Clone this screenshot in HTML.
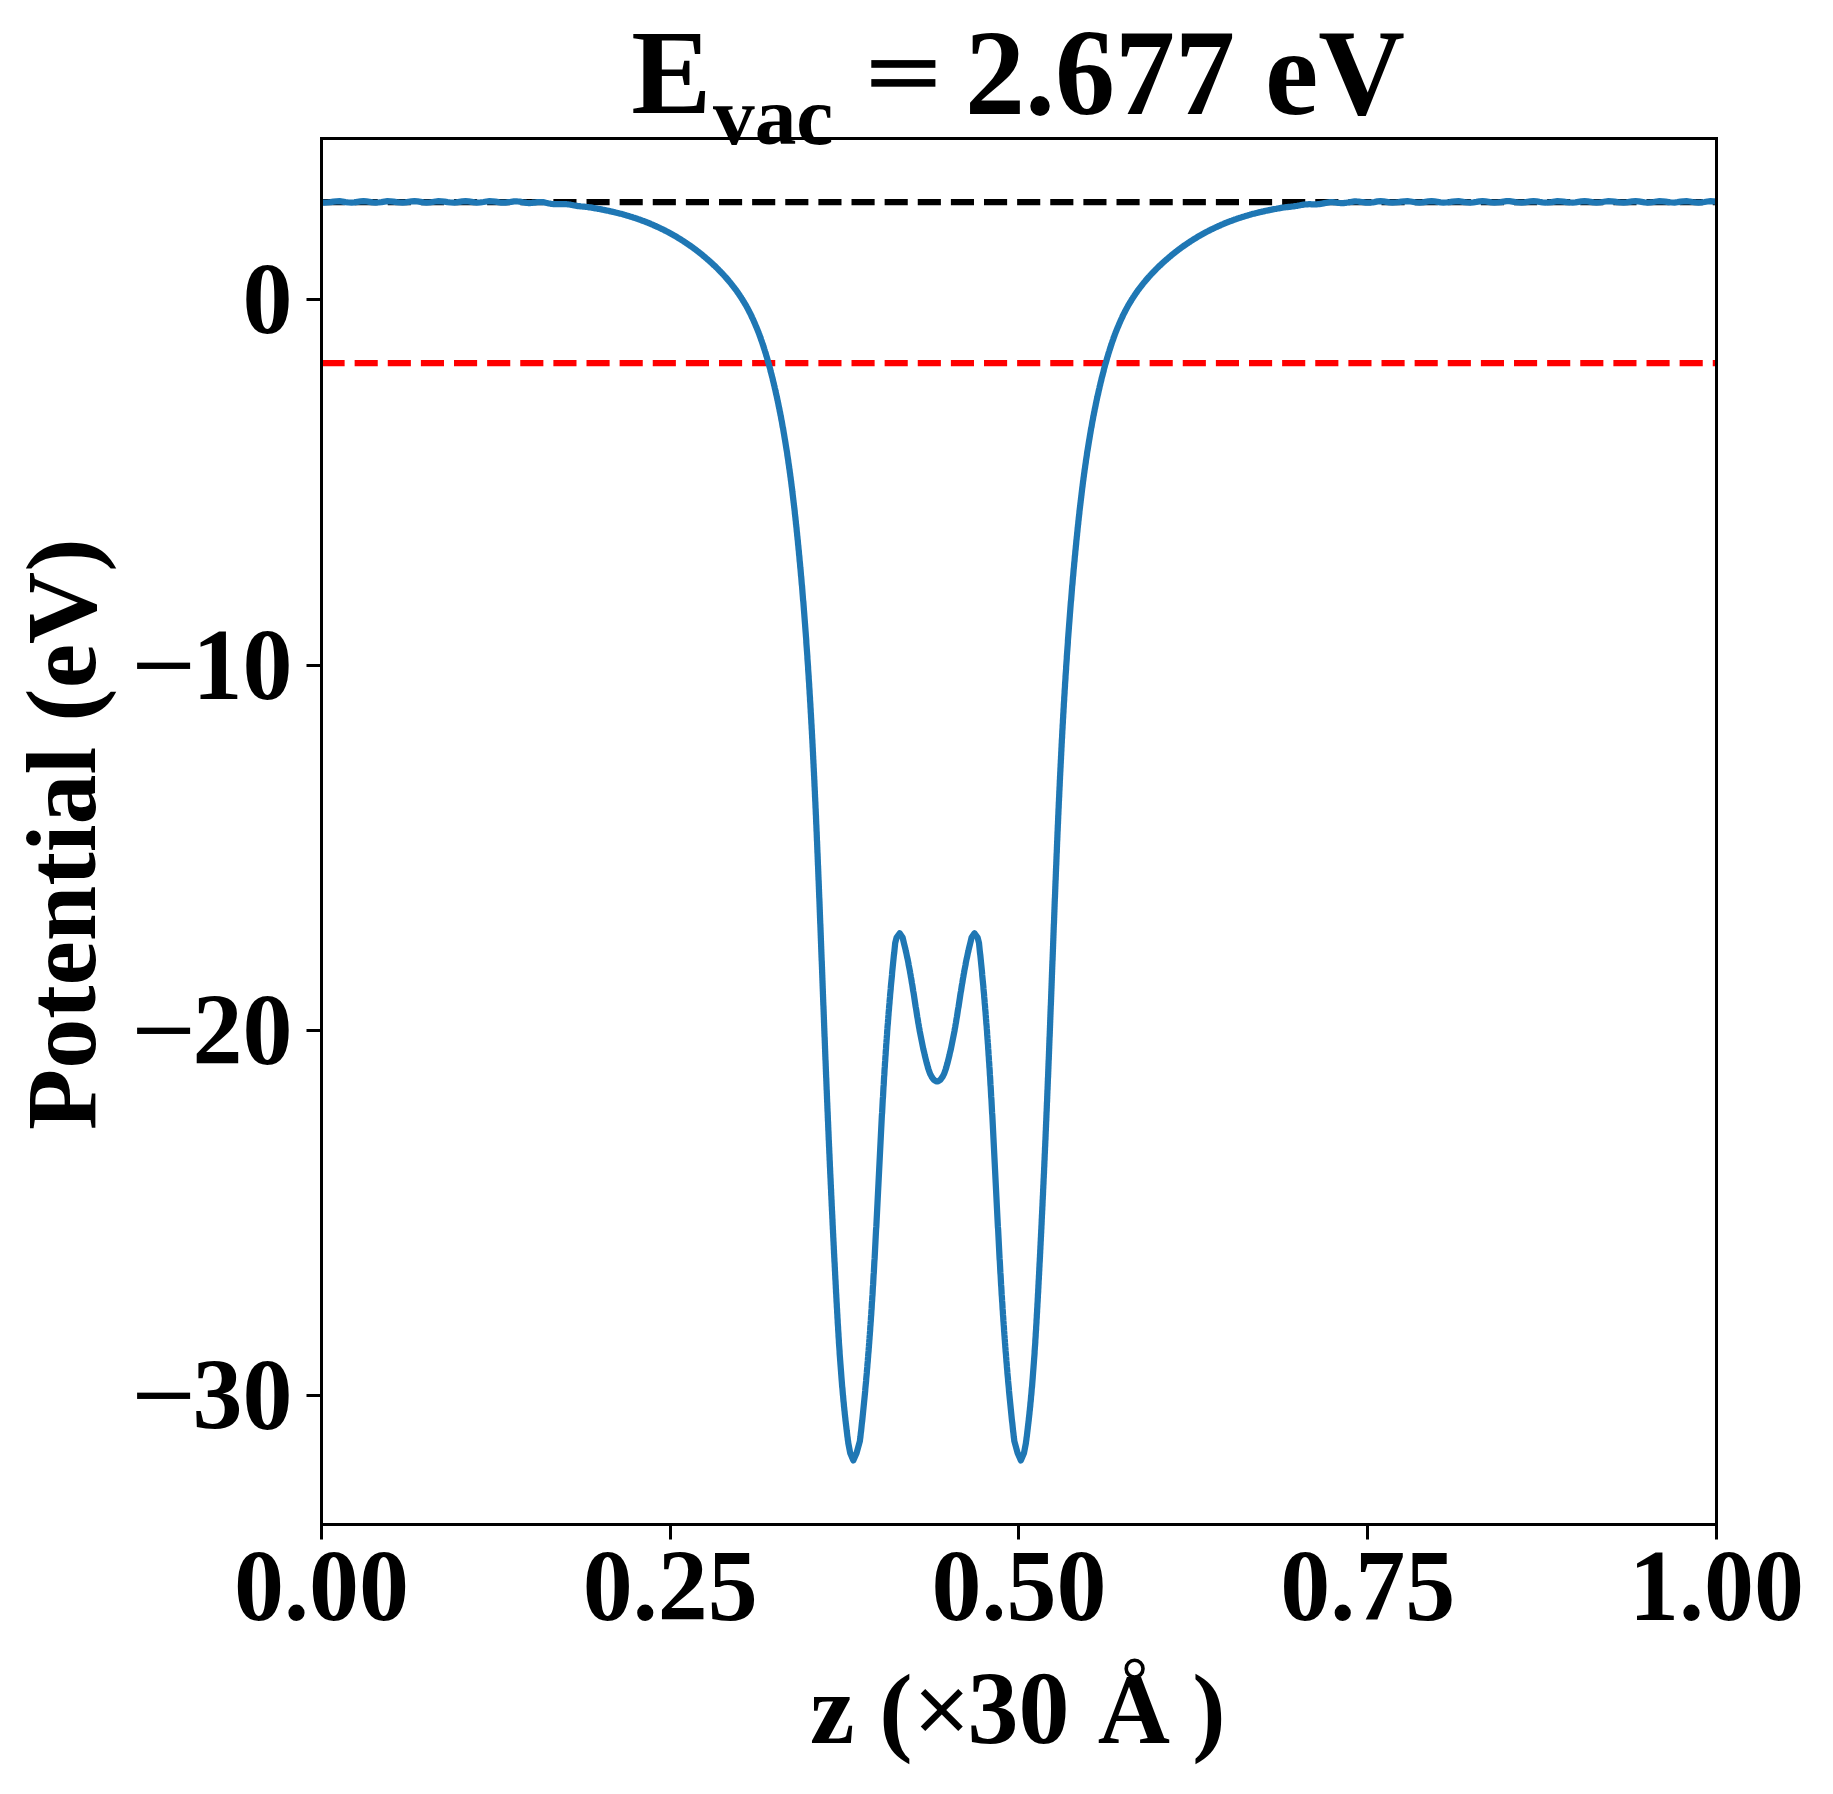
<!DOCTYPE html><html><head><meta charset="utf-8"><title>Potential</title><style>html,body{margin:0;padding:0;background:#fff;}svg{display:block;}</style></head><body>
<svg width="1833" height="1794" viewBox="0 0 1833 1794">
<rect x="0" y="0" width="1833" height="1794" fill="#ffffff"/>
<defs><clipPath id="ax"><rect x="321.5" y="138.5" width="1395.0" height="1386.0"/></clipPath></defs>
<g clip-path="url(#ax)">
<line x1="321.5" y1="202" x2="1716.5" y2="202" stroke="#000" stroke-width="6.250" stroke-dasharray="23.125 10.000"/>
<line x1="321.5" y1="363" x2="1716.5" y2="363" stroke="#ff0000" stroke-width="6.250" stroke-dasharray="23.125 10.000"/>
<path d="M321.5,202.3 L324.5,202.6 L327.5,202.5 L330.5,202.1 L333.5,201.6 L336.5,201.3 L339.5,201.2 L342.5,201.6 L345.5,202.1 L348.5,202.5 L351.5,202.6 L354.5,202.3 L357.5,201.8 L360.5,201.4 L363.5,201.2 L366.5,201.4 L369.5,201.8 L372.5,202.3 L375.5,202.6 L378.5,202.5 L381.5,202.1 L384.5,201.6 L387.5,201.2 L390.5,201.3 L393.5,201.6 L396.5,202.1 L399.5,202.5 L402.5,202.6 L405.5,202.3 L408.5,201.8 L411.5,201.4 L414.5,201.2 L417.5,201.4 L420.5,201.9 L423.5,202.4 L426.5,202.6 L429.5,202.5 L432.5,202.0 L435.5,201.5 L438.5,201.2 L441.5,201.3 L444.5,201.6 L447.5,202.1 L450.5,202.5 L453.5,202.6 L456.5,202.3 L459.5,201.8 L462.5,201.3 L465.5,201.2 L468.5,201.4 L471.5,201.9 L474.5,202.4 L477.5,202.6 L480.5,202.4 L483.5,202.0 L486.5,201.5 L489.5,201.2 L492.5,201.3 L495.5,201.7 L498.5,202.2 L499.9,202.5 L501.3,202.7 L502.7,202.7 L504.1,202.7 L505.5,202.6 L506.9,202.4 L508.4,202.2 L509.8,202.0 L511.2,201.8 L512.6,201.6 L514.0,201.4 L515.4,201.4 L516.8,201.4 L518.2,201.5 L519.6,201.7 L521.0,201.9 L522.4,202.2 L523.7,202.5 L525.1,202.7 L526.5,202.9 L527.9,203.0 L529.3,203.0 L530.6,203.0 L532.0,202.9 L533.4,202.7 L534.7,202.6 L536.1,202.4 L537.5,202.2 L538.8,202.1 L540.2,202.1 L541.5,202.1 L542.9,202.2 L544.2,202.4 L545.6,202.7 L546.9,203.0 L548.2,203.3 L549.6,203.5 L550.9,203.8 L552.2,204.0 L553.5,204.1 L554.9,204.2 L556.2,204.2 L557.5,204.1 L558.8,204.1 L560.1,204.0 L561.4,204.0 L562.7,204.0 L564.0,204.0 L565.3,204.0 L566.6,204.2 L567.9,204.3 L569.2,204.5 L570.5,204.7 L571.8,205.0 L573.0,205.2 L574.3,205.5 L575.6,205.7 L576.8,205.9 L578.1,206.1 L579.4,206.2 L580.6,206.4 L581.9,206.5 L583.1,206.6 L584.4,206.7 L585.6,206.8 L586.8,207.0 L588.1,207.1 L589.3,207.3 L590.5,207.4 L591.7,207.6 L593.0,207.9 L594.2,208.1 L595.4,208.3 L596.6,208.5 L597.8,208.8 L599.0,209.0 L600.2,209.2 L601.4,209.4 L602.6,209.7 L603.7,209.9 L604.9,210.1 L606.1,210.4 L607.3,210.6 L608.4,210.8 L609.6,211.1 L610.8,211.4 L611.9,211.6 L613.1,211.9 L614.2,212.1 L615.3,212.4 L616.5,212.7 L617.6,213.0 L618.7,213.3 L619.9,213.6 L621.0,213.8 L622.1,214.1 L623.2,214.4 L624.3,214.8 L625.4,215.1 L626.5,215.4 L627.6,215.7 L628.7,216.0 L629.8,216.4 L630.9,216.7 L631.9,217.0 L633.0,217.4 L634.1,217.7 L635.1,218.1 L636.2,218.4 L637.3,218.8 L638.3,219.2 L639.4,219.5 L640.4,219.9 L641.4,220.3 L642.5,220.7 L643.5,221.0 L644.5,221.4 L645.5,221.8 L646.6,222.2 L647.6,222.6 L648.6,223.0 L649.6,223.4 L650.6,223.9 L651.6,224.3 L652.6,224.7 L653.5,225.1 L654.5,225.6 L655.5,226.0 L656.5,226.4 L657.4,226.9 L658.4,227.3 L659.4,227.8 L660.3,228.2 L661.3,228.7 L662.2,229.2 L663.2,229.6 L664.1,230.1 L665.1,230.6 L666.0,231.1 L666.9,231.5 L667.9,232.0 L668.8,232.5 L669.7,233.0 L670.6,233.5 L671.5,234.0 L672.4,234.5 L673.3,235.0 L674.2,235.6 L675.1,236.1 L676.0,236.6 L676.9,237.1 L677.8,237.7 L678.7,238.2 L679.6,238.7 L680.4,239.3 L681.3,239.8 L682.2,240.4 L683.0,240.9 L683.9,241.5 L684.7,242.0 L685.6,242.6 L686.4,243.2 L687.3,243.7 L688.1,244.3 L689.0,244.9 L689.8,245.5 L690.6,246.0 L691.4,246.6 L692.3,247.2 L693.1,247.8 L693.9,248.4 L694.7,249.0 L695.5,249.6 L696.3,250.2 L697.1,250.8 L697.9,251.5 L698.7,252.1 L699.5,252.7 L700.3,253.3 L701.1,254.0 L701.9,254.6 L702.6,255.2 L703.4,255.9 L704.2,256.5 L705.0,257.2 L705.7,257.8 L706.5,258.5 L707.2,259.1 L708.0,259.8 L708.8,260.4 L709.5,261.1 L710.3,261.8 L711.0,262.4 L711.7,263.1 L712.5,263.8 L713.2,264.5 L713.9,265.2 L714.7,265.8 L715.4,266.5 L716.1,267.2 L716.8,267.9 L717.5,268.6 L718.2,269.3 L718.9,270.1 L719.6,270.8 L720.3,271.5 L721.0,272.2 L721.7,272.9 L722.4,273.7 L723.1,274.4 L723.8,275.1 L724.4,275.9 L725.1,276.6 L725.8,277.4 L726.4,278.1 L727.1,278.9 L727.7,279.6 L728.4,280.4 L729.0,281.2 L729.7,281.9 L730.3,282.7 L731.0,283.5 L731.6,284.3 L732.2,285.1 L732.8,285.9 L733.4,286.7 L734.1,287.5 L734.7,288.3 L735.3,289.1 L735.9,289.9 L736.5,290.7 L737.1,291.5 L737.6,292.4 L738.2,293.2 L738.8,294.0 L739.4,294.9 L739.9,295.7 L740.5,296.6 L741.1,297.4 L741.6,298.3 L742.2,299.1 L742.7,300.0 L743.2,300.9 L743.8,301.8 L744.3,302.7 L744.8,303.5 L745.4,304.4 L745.9,305.3 L746.4,306.2 L746.9,307.2 L747.4,308.1 L747.9,309.0 L748.4,309.9 L748.9,310.8 L749.3,311.8 L749.8,312.7 L750.3,313.6 L750.8,314.6 L751.2,315.5 L751.7,316.5 L752.1,317.5 L752.6,318.4 L753.0,319.4 L753.5,320.4 L753.9,321.3 L754.3,322.3 L754.8,323.3 L755.2,324.3 L755.6,325.3 L756.0,326.3 L756.5,327.3 L756.9,328.3 L757.3,329.3 L757.7,330.3 L758.1,331.3 L758.5,332.3 L758.9,333.4 L759.3,334.4 L759.6,335.4 L760.0,336.4 L760.4,337.5 L760.8,338.5 L761.1,339.6 L761.5,340.6 L761.9,341.7 L762.2,342.7 L762.6,343.8 L762.9,344.8 L763.3,345.9 L763.6,347.0 L764.0,348.0 L764.3,349.1 L764.7,350.2 L765.0,351.3 L765.3,352.3 L765.7,353.4 L766.0,354.5 L766.3,355.6 L766.7,356.7 L767.0,357.8 L767.3,358.9 L767.6,360.0 L767.9,361.1 L768.2,362.2 L768.5,363.3 L768.9,364.4 L769.2,365.5 L769.5,366.6 L769.8,367.7 L770.1,368.8 L770.4,370.0 L770.6,371.1 L770.9,372.2 L771.2,373.3 L771.5,374.4 L771.8,375.6 L772.1,376.7 L772.4,377.8 L772.7,379.0 L772.9,380.1 L773.2,381.2 L773.5,382.4 L773.8,383.5 L774.0,384.7 L774.3,385.8 L774.6,386.9 L774.8,388.1 L775.1,389.2 L775.4,390.4 L775.6,391.5 L775.9,392.7 L776.1,393.9 L776.4,395.0 L776.7,396.2 L776.9,397.3 L777.2,398.5 L777.4,399.7 L777.7,400.8 L777.9,402.0 L778.2,403.2 L778.4,404.3 L778.6,405.5 L778.9,406.7 L779.1,407.9 L779.4,409.0 L779.6,410.2 L779.8,411.4 L780.1,412.6 L780.3,413.7 L780.5,414.9 L780.8,416.1 L781.0,417.3 L781.2,418.5 L781.4,419.7 L781.7,420.9 L781.9,422.1 L782.1,423.3 L782.3,424.5 L782.5,425.7 L782.7,426.9 L783.0,428.1 L783.2,429.3 L783.4,430.5 L783.6,431.7 L783.8,432.9 L784.0,434.1 L784.2,435.3 L784.4,436.5 L784.6,437.7 L784.8,438.9 L785.0,440.1 L785.2,441.3 L785.4,442.6 L785.6,443.8 L785.8,445.0 L786.0,446.2 L786.2,447.4 L786.4,448.7 L786.6,449.9 L786.8,451.1 L787.0,452.3 L787.2,453.6 L787.3,454.8 L787.5,456.0 L787.7,457.2 L787.9,458.5 L788.1,459.7 L788.3,460.9 L788.4,462.2 L788.6,463.4 L788.8,464.7 L789.0,465.9 L789.1,467.1 L789.3,468.4 L789.5,469.6 L789.7,470.9 L789.8,472.1 L790.0,473.3 L790.2,474.6 L790.3,475.8 L790.5,477.1 L790.7,478.3 L790.8,479.6 L791.0,480.8 L791.2,482.1 L791.3,483.3 L791.5,484.6 L791.6,485.8 L791.8,487.1 L792.0,488.4 L792.1,489.6 L792.3,490.9 L792.4,492.1 L792.6,493.4 L792.7,494.7 L792.9,495.9 L793.0,497.2 L793.2,498.4 L793.3,499.7 L793.5,501.0 L793.6,502.2 L793.8,503.5 L793.9,504.8 L794.1,506.0 L794.2,507.3 L794.4,508.6 L794.5,509.8 L794.7,511.1 L794.8,512.4 L794.9,513.7 L795.1,514.9 L795.2,516.2 L795.4,517.5 L795.5,518.8 L795.6,520.0 L795.8,521.3 L795.9,522.6 L796.0,523.9 L796.2,525.1 L796.3,526.4 L796.5,527.7 L796.6,529.0 L796.7,530.3 L796.8,531.5 L797.0,532.8 L797.1,534.1 L797.2,535.4 L797.4,536.7 L797.5,538.0 L797.6,539.2 L797.8,540.5 L797.9,541.8 L798.0,543.1 L798.1,544.4 L798.3,545.7 L798.4,547.0 L798.5,548.3 L798.6,549.5 L798.8,550.8 L798.9,552.1 L799.0,553.4 L799.1,554.7 L799.3,556.0 L799.4,557.3 L799.5,558.6 L799.6,559.9 L799.7,561.2 L799.9,562.5 L800.0,563.8 L800.1,565.1 L800.2,566.4 L800.3,567.6 L800.5,568.9 L800.6,570.2 L800.7,571.5 L800.8,572.8 L800.9,574.1 L801.0,575.4 L801.2,576.7 L801.3,578.0 L801.4,579.3 L801.5,580.6 L801.6,581.9 L801.7,583.2 L801.8,584.5 L802.0,585.8 L802.1,587.1 L802.2,588.5 L802.3,589.8 L802.4,591.1 L802.5,592.4 L802.6,593.7 L802.7,595.0 L802.8,596.3 L802.9,597.6 L803.0,598.9 L803.1,600.2 L803.3,601.5 L803.4,602.8 L803.5,604.1 L803.6,605.4 L803.7,606.7 L803.8,608.1 L803.9,609.4 L804.0,610.7 L804.1,612.0 L804.2,613.3 L804.3,614.6 L804.4,615.9 L804.5,617.2 L804.6,618.6 L804.7,619.9 L804.8,621.2 L804.9,622.5 L805.0,623.8 L805.1,625.1 L805.2,626.4 L805.3,627.8 L805.4,629.1 L805.5,630.4 L805.6,631.7 L805.7,633.0 L805.8,634.3 L805.9,635.7 L806.0,637.0 L806.1,638.3 L806.2,639.6 L806.3,640.9 L806.3,642.3 L806.4,643.6 L806.5,644.9 L806.6,646.2 L806.7,647.5 L806.8,648.9 L806.9,650.2 L807.0,651.5 L807.1,652.8 L807.2,654.2 L807.3,655.5 L807.4,656.8 L807.4,658.1 L807.5,659.5 L807.6,660.8 L807.7,662.1 L807.8,663.4 L807.9,664.8 L808.0,666.1 L808.1,667.4 L808.1,668.7 L808.2,670.1 L808.3,671.4 L808.4,672.7 L808.5,674.1 L808.6,675.4 L808.7,676.7 L808.7,678.0 L808.8,679.4 L808.9,680.7 L809.0,682.0 L809.1,683.4 L809.2,684.7 L809.2,686.0 L809.3,687.4 L809.4,688.7 L809.5,690.0 L809.6,691.4 L809.6,692.7 L809.7,694.0 L809.8,695.4 L809.9,696.7 L810.0,698.0 L810.0,699.4 L810.1,700.7 L810.2,702.0 L810.3,703.4 L810.4,704.7 L810.4,706.1 L810.5,707.4 L810.6,708.7 L810.7,710.1 L810.7,711.4 L810.8,712.7 L810.9,714.1 L811.0,715.4 L811.0,716.8 L811.1,718.1 L811.2,719.4 L811.3,720.8 L811.3,722.1 L811.4,723.5 L811.5,724.8 L811.6,726.1 L811.6,727.5 L811.7,728.8 L811.8,730.2 L811.9,731.5 L811.9,732.8 L812.0,734.2 L812.1,735.5 L812.1,736.9 L812.2,738.2 L812.3,739.6 L812.4,740.9 L812.4,742.2 L812.5,743.6 L812.6,744.9 L812.6,746.3 L812.7,747.6 L812.8,749.0 L812.8,750.3 L812.9,751.7 L813.0,753.0 L813.0,754.4 L813.1,755.7 L813.2,757.0 L813.2,758.4 L813.3,759.7 L813.4,761.1 L813.4,762.4 L813.5,763.8 L813.6,765.1 L813.6,766.5 L813.7,767.8 L813.8,769.2 L813.8,770.5 L813.9,771.9 L814.0,773.2 L814.0,774.6 L814.1,775.9 L814.2,777.3 L814.2,778.6 L814.3,780.0 L814.4,781.3 L814.4,782.7 L814.5,784.0 L814.5,785.4 L814.6,786.7 L814.7,788.1 L814.7,789.4 L814.8,790.8 L814.9,792.1 L814.9,793.5 L815.0,794.8 L815.0,796.2 L815.1,797.5 L815.2,798.9 L815.2,800.2 L815.3,801.6 L815.4,803.0 L815.4,804.3 L815.5,805.7 L815.5,807.0 L815.6,808.4 L815.7,809.7 L815.7,811.1 L815.8,812.4 L815.8,813.8 L815.9,815.1 L816.0,816.5 L816.0,817.9 L816.1,819.2 L816.1,820.6 L816.2,821.9 L816.2,823.3 L816.3,824.6 L816.4,826.0 L816.4,827.3 L816.5,828.7 L816.5,830.1 L816.6,831.4 L816.7,832.8 L816.7,834.1 L816.8,835.5 L816.8,836.8 L816.9,838.2 L816.9,839.6 L817.0,840.9 L817.1,842.3 L817.1,843.6 L817.2,845.0 L817.2,846.3 L817.3,847.7 L817.3,849.1 L817.4,850.4 L817.4,851.8 L817.5,853.1 L817.6,854.5 L817.6,855.8 L817.7,857.2 L817.7,858.6 L817.8,859.9 L817.8,861.3 L817.9,862.6 L817.9,864.0 L818.0,865.4 L818.1,866.7 L818.1,868.1 L818.2,869.4 L818.2,870.8 L818.3,872.2 L818.3,873.5 L818.4,874.9 L818.4,876.2 L818.5,877.6 L818.5,879.0 L818.6,880.3 L818.7,881.7 L818.7,883.0 L818.8,884.4 L818.8,885.8 L818.9,887.1 L818.9,888.5 L819.0,889.8 L819.0,891.2 L819.1,892.6 L819.1,893.9 L819.2,895.3 L819.2,896.6 L819.3,898.0 L819.4,899.4 L819.4,900.7 L819.5,902.1 L819.5,903.4 L819.6,904.8 L819.6,906.2 L819.7,907.5 L819.7,908.9 L819.8,910.3 L819.8,911.6 L819.9,913.0 L819.9,914.3 L820.0,915.7 L820.0,917.1 L820.1,918.4 L820.1,919.8 L820.2,921.2 L820.2,922.5 L820.3,923.9 L820.4,925.2 L820.4,926.6 L820.5,928.0 L820.5,929.3 L820.6,930.7 L820.6,932.0 L820.7,933.4 L820.7,934.8 L820.8,936.1 L820.8,937.5 L820.9,938.9 L820.9,940.2 L821.0,941.6 L821.0,942.9 L821.1,944.3 L821.1,945.7 L821.2,947.0 L821.2,948.4 L821.3,949.8 L821.3,951.1 L821.4,952.5 L821.4,953.8 L821.5,955.2 L821.5,956.6 L821.6,957.9 L821.6,959.3 L821.7,960.7 L821.8,962.0 L821.8,963.4 L821.9,964.7 L821.9,966.1 L822.0,967.5 L822.0,968.8 L822.1,970.2 L822.1,971.6 L822.2,972.9 L822.2,974.3 L822.3,975.6 L822.3,977.0 L822.4,978.4 L822.4,979.7 L822.5,981.1 L822.5,982.5 L822.6,983.8 L822.6,985.2 L822.7,986.6 L822.7,987.9 L822.8,989.3 L822.8,990.6 L822.9,992.0 L822.9,993.4 L823.0,994.7 L823.0,996.1 L823.1,997.5 L823.1,998.8 L823.2,1000.2 L823.2,1001.5 L823.3,1002.9 L823.3,1004.3 L823.4,1005.6 L823.5,1007.0 L823.5,1008.4 L823.6,1009.7 L823.6,1011.1 L823.7,1012.4 L823.7,1013.8 L823.8,1015.2 L823.8,1016.5 L823.9,1017.9 L823.9,1019.3 L824.0,1020.6 L824.0,1022.0 L824.1,1023.3 L824.1,1024.7 L824.2,1026.1 L824.2,1027.4 L824.3,1028.8 L824.3,1030.1 L824.4,1031.5 L824.4,1032.9 L824.5,1034.2 L824.5,1035.6 L824.6,1037.0 L824.7,1038.3 L824.7,1039.7 L824.8,1041.0 L824.8,1042.4 L824.9,1043.8 L824.9,1045.1 L825.0,1046.5 L825.0,1047.8 L825.1,1049.2 L825.1,1050.6 L825.2,1051.9 L825.2,1053.3 L825.3,1054.7 L825.3,1056.0 L825.4,1057.4 L825.4,1058.7 L825.5,1060.1 L825.6,1061.5 L825.6,1062.8 L825.7,1064.2 L825.7,1065.5 L825.8,1066.9 L825.8,1068.3 L825.9,1069.6 L825.9,1071.0 L826.0,1072.3 L826.0,1073.7 L826.1,1075.1 L826.1,1076.4 L826.2,1077.8 L826.3,1079.1 L826.3,1080.5 L826.4,1081.9 L826.4,1083.2 L826.5,1084.6 L826.5,1085.9 L826.6,1087.3 L826.6,1088.7 L826.7,1090.0 L826.8,1091.4 L826.8,1092.7 L826.9,1094.1 L826.9,1095.4 L827.0,1096.8 L827.0,1098.2 L827.1,1099.5 L827.1,1100.9 L827.2,1102.2 L827.3,1103.6 L827.3,1105.0 L827.4,1106.3 L827.4,1107.7 L827.5,1109.0 L827.5,1110.4 L827.6,1111.7 L827.7,1113.1 L827.7,1114.5 L827.8,1115.8 L827.8,1117.2 L827.9,1118.5 L827.9,1119.9 L828.0,1121.2 L828.1,1122.6 L828.1,1124.0 L828.2,1125.3 L828.2,1126.7 L828.3,1128.0 L828.3,1129.4 L828.4,1130.7 L828.5,1132.1 L828.5,1133.4 L828.6,1134.8 L828.6,1136.2 L828.7,1137.5 L828.7,1138.9 L828.8,1140.2 L828.9,1141.6 L828.9,1142.9 L829.0,1144.3 L829.0,1145.6 L829.1,1147.0 L829.2,1148.4 L829.2,1149.7 L829.3,1151.1 L829.3,1152.4 L829.4,1153.8 L829.5,1155.1 L829.5,1156.5 L829.6,1157.8 L829.6,1159.2 L829.7,1160.5 L829.8,1161.9 L829.8,1163.3 L829.9,1164.6 L829.9,1166.0 L830.0,1167.3 L830.1,1168.7 L830.1,1170.0 L830.2,1171.4 L830.2,1172.7 L830.3,1174.1 L830.4,1175.4 L830.4,1176.8 L830.5,1178.1 L830.6,1179.5 L830.6,1180.8 L830.7,1182.2 L830.7,1183.5 L830.8,1184.9 L830.9,1186.3 L830.9,1187.6 L831.0,1189.0 L831.1,1190.3 L831.1,1191.7 L831.2,1193.0 L831.2,1194.4 L831.3,1195.7 L831.4,1197.1 L831.4,1198.4 L831.5,1199.8 L831.6,1201.1 L831.6,1202.5 L831.7,1203.8 L831.7,1205.2 L831.8,1206.5 L831.9,1207.9 L831.9,1209.2 L832.0,1210.6 L832.1,1211.9 L832.1,1213.3 L832.2,1214.6 L832.3,1216.0 L832.3,1217.3 L832.4,1218.7 L832.5,1220.0 L832.5,1221.4 L832.6,1222.7 L832.6,1224.1 L832.7,1225.4 L832.8,1226.8 L832.8,1228.1 L832.9,1229.5 L833.0,1230.8 L833.0,1232.2 L833.1,1233.5 L833.2,1234.9 L833.2,1236.2 L833.3,1237.6 L833.4,1238.9 L833.4,1240.2 L833.5,1241.6 L833.6,1242.9 L833.6,1244.3 L833.7,1245.6 L833.8,1247.0 L833.8,1248.3 L833.9,1249.7 L834.0,1251.0 L834.0,1252.4 L834.1,1253.7 L834.2,1255.1 L834.2,1256.4 L834.3,1257.8 L834.4,1259.1 L834.4,1260.5 L834.5,1261.8 L834.6,1263.1 L834.7,1264.5 L834.7,1265.8 L834.8,1267.2 L834.9,1268.5 L834.9,1269.9 L835.0,1271.2 L835.1,1272.6 L835.1,1273.9 L835.2,1275.2 L835.3,1276.6 L835.3,1277.9 L835.4,1279.3 L835.5,1280.6 L835.6,1282.0 L835.6,1283.3 L835.7,1284.7 L835.8,1286.0 L835.8,1287.3 L835.9,1288.7 L836.0,1290.0 L836.0,1291.4 L836.1,1292.7 L836.2,1294.1 L836.3,1295.4 L836.3,1296.8 L836.4,1298.1 L836.5,1299.4 L836.5,1300.8 L836.6,1302.1 L836.7,1303.5 L836.8,1304.8 L836.8,1306.1 L836.9,1307.5 L837.0,1308.8 L837.1,1310.2 L837.1,1311.5 L837.2,1312.8 L837.3,1314.2 L837.4,1315.5 L837.4,1316.9 L837.5,1318.2 L837.6,1319.5 L837.7,1320.9 L837.7,1322.2 L837.8,1323.6 L837.9,1324.9 L838.0,1326.2 L838.1,1327.6 L838.1,1328.9 L838.2,1330.2 L838.3,1331.6 L838.4,1332.9 L838.5,1334.2 L838.5,1335.6 L838.6,1336.9 L838.7,1338.2 L838.8,1339.6 L838.9,1340.9 L838.9,1342.2 L839.0,1343.5 L839.1,1344.9 L839.2,1346.2 L839.3,1347.5 L839.4,1348.9 L839.5,1350.2 L839.6,1351.5 L839.6,1352.8 L839.7,1354.2 L839.8,1355.5 L839.9,1356.8 L840.0,1358.1 L840.1,1359.4 L840.2,1360.8 L840.3,1362.1 L840.4,1363.4 L840.5,1364.7 L840.6,1366.0 L840.7,1367.4 L840.8,1368.7 L840.9,1370.0 L841.0,1371.3 L841.1,1372.6 L841.2,1373.9 L841.3,1375.2 L841.4,1376.6 L841.5,1377.9 L841.6,1379.2 L841.7,1380.5 L841.8,1381.8 L841.9,1383.1 L842.0,1384.4 L842.1,1385.7 L842.2,1387.0 L842.4,1388.3 L842.5,1389.6 L842.6,1390.9 L842.7,1392.2 L842.8,1393.5 L842.9,1394.8 L843.1,1396.1 L843.2,1397.4 L843.3,1398.7 L843.4,1400.0 L843.5,1401.3 L843.7,1402.6 L843.8,1403.8 L843.9,1405.1 L844.0,1406.4 L844.2,1407.7 L844.3,1409.0 L844.4,1410.3 L844.6,1411.5 L844.7,1412.8 L844.8,1414.1 L845.0,1415.4 L845.1,1416.7 L845.3,1417.9 L845.4,1419.2 L845.5,1420.5 L845.7,1421.8 L845.8,1423.0 L846.0,1424.3 L846.1,1425.6 L846.3,1426.8 L846.4,1428.1 L846.6,1429.4 L846.7,1430.6 L846.9,1431.9 L847.0,1433.1 L847.2,1434.4 L847.3,1435.7 L847.5,1436.9 L847.7,1438.2 L847.8,1439.4 L848.0,1440.7 L848.2,1441.9 L848.3,1443.2 L850.2,1453.0 L853.3,1460.4 L856.6,1453.0 L859.9,1441.0 L860.1,1439.0 L860.4,1437.0 L860.6,1435.0 L860.8,1433.0 L861.1,1431.0 L861.3,1429.0 L861.5,1427.0 L861.7,1425.0 L861.9,1423.0 L862.2,1421.0 L862.4,1419.0 L862.6,1417.0 L862.8,1415.0 L863.0,1413.0 L863.2,1411.0 L863.4,1409.0 L863.6,1407.0 L863.8,1405.0 L864.0,1403.0 L864.2,1401.0 L864.4,1399.0 L864.6,1397.0 L864.8,1395.0 L865.0,1393.0 L865.2,1391.0 L865.3,1389.0 L865.5,1387.0 L865.7,1385.0 L865.9,1383.0 L866.1,1381.0 L866.2,1379.0 L866.4,1377.0 L866.6,1375.0 L866.8,1373.0 L866.9,1371.0 L867.1,1369.0 L867.3,1367.0 L867.4,1365.0 L867.6,1363.0 L867.8,1361.0 L867.9,1359.0 L868.1,1357.0 L868.2,1355.0 L868.4,1353.0 L868.6,1351.0 L868.7,1349.0 L868.9,1347.0 L869.0,1345.0 L869.2,1343.0 L869.3,1341.0 L869.5,1339.0 L869.6,1337.0 L869.8,1335.0 L869.9,1333.0 L870.1,1331.0 L870.2,1329.0 L870.3,1327.0 L870.5,1325.0 L870.6,1323.0 L870.8,1321.0 L870.9,1319.0 L871.0,1317.0 L871.2,1315.0 L871.3,1313.0 L871.4,1311.0 L871.6,1309.0 L871.7,1307.0 L871.8,1305.0 L871.9,1303.0 L872.1,1301.0 L872.2,1299.0 L872.3,1297.0 L872.5,1295.0 L872.6,1293.0 L872.7,1291.0 L872.8,1289.0 L872.9,1287.0 L873.1,1285.0 L873.2,1283.0 L873.3,1281.0 L873.4,1279.0 L873.5,1277.0 L873.6,1275.0 L873.8,1273.0 L873.9,1271.0 L874.0,1269.0 L874.1,1267.0 L874.2,1265.0 L874.3,1263.0 L874.4,1261.0 L874.6,1259.0 L874.7,1257.0 L874.8,1255.0 L874.9,1253.0 L875.0,1251.0 L875.1,1249.0 L875.2,1247.0 L875.3,1245.0 L875.4,1243.0 L875.5,1241.0 L875.6,1239.0 L875.7,1237.0 L875.8,1235.0 L875.9,1233.0 L876.0,1231.0 L876.1,1229.0 L876.3,1227.0 L876.4,1225.0 L876.5,1223.0 L876.6,1221.0 L876.7,1219.0 L876.8,1217.0 L876.9,1215.0 L877.0,1213.0 L877.1,1211.0 L877.2,1209.0 L877.3,1207.0 L877.4,1205.0 L877.5,1203.0 L877.6,1201.0 L877.7,1199.0 L877.8,1197.0 L877.9,1195.0 L878.0,1193.0 L878.1,1191.0 L878.2,1189.0 L878.3,1187.0 L878.4,1185.0 L878.5,1183.0 L878.6,1181.0 L878.7,1179.0 L878.8,1177.0 L878.9,1175.0 L879.0,1173.0 L879.1,1171.0 L879.2,1169.0 L879.3,1167.0 L879.4,1165.0 L879.5,1163.0 L879.6,1161.0 L879.7,1159.0 L879.8,1157.0 L879.9,1155.0 L880.0,1153.0 L880.1,1151.0 L880.2,1149.0 L880.3,1147.0 L880.4,1145.0 L880.5,1143.0 L880.6,1141.0 L880.7,1139.0 L880.8,1137.0 L880.9,1135.0 L881.0,1133.0 L881.1,1131.0 L881.2,1129.0 L881.3,1127.0 L881.4,1125.0 L881.5,1123.0 L881.6,1121.0 L881.7,1119.0 L881.8,1117.0 L881.9,1115.0 L882.1,1113.0 L882.2,1111.0 L882.3,1109.0 L882.4,1107.0 L882.5,1105.0 L882.6,1103.0 L882.7,1101.0 L882.8,1099.0 L883.0,1097.0 L883.1,1095.0 L883.2,1093.0 L883.3,1091.0 L883.4,1089.0 L883.5,1087.0 L883.7,1085.0 L883.8,1083.0 L883.9,1081.0 L884.0,1079.0 L884.1,1077.0 L884.3,1075.0 L884.4,1073.0 L884.5,1071.0 L884.6,1069.0 L884.8,1067.0 L884.9,1065.0 L885.0,1063.0 L885.2,1061.0 L885.3,1059.0 L885.4,1057.0 L885.6,1055.0 L885.7,1053.0 L885.8,1051.0 L886.0,1049.0 L886.1,1047.0 L886.2,1045.0 L886.4,1043.0 L886.5,1041.0 L886.7,1039.0 L886.8,1037.0 L887.0,1035.0 L887.1,1033.0 L887.2,1031.0 L887.4,1029.0 L887.5,1027.0 L887.7,1025.0 L887.9,1023.0 L888.0,1021.0 L888.2,1019.0 L888.3,1017.0 L888.5,1015.0 L888.6,1013.0 L888.8,1011.0 L889.0,1009.0 L889.1,1007.0 L889.3,1005.0 L889.5,1003.0 L889.6,1001.0 L889.8,999.0 L890.0,997.0 L890.1,995.0 L890.3,993.0 L890.5,991.0 L890.7,989.0 L890.8,987.0 L891.0,985.0 L891.2,983.0 L891.4,981.0 L891.6,979.0 L891.8,977.0 L892.0,975.0 L892.1,973.0 L892.3,971.0 L892.5,969.0 L892.7,967.0 L892.9,965.0 L893.1,963.0 L893.3,961.0 L893.5,959.0 L893.7,957.0 L893.9,955.0 L894.2,953.0 L894.4,951.0 L894.6,949.0 L894.8,947.0 L895.0,945.0 L895.2,943.0 L896.6,937.5 L899.7,933.3 L902.6,937.5 L903.9,943.0 L904.4,945.0 L904.9,947.0 L905.4,949.0 L905.8,951.0 L906.3,953.0 L906.7,955.0 L907.1,957.0 L907.6,959.0 L908.0,961.0 L908.4,963.0 L908.7,965.0 L909.1,967.0 L909.5,969.0 L909.9,971.0 L910.2,973.0 L910.6,975.0 L910.9,977.0 L911.3,979.0 L911.6,981.0 L911.9,983.0 L912.3,985.0 L912.6,987.0 L912.9,989.0 L913.2,991.0 L913.6,993.0 L913.9,995.0 L914.2,997.0 L914.5,999.0 L914.8,1001.0 L915.1,1003.0 L915.4,1005.0 L915.7,1007.0 L916.1,1009.0 L916.4,1011.0 L916.7,1013.0 L917.0,1015.0 L917.3,1017.0 L917.7,1019.0 L918.0,1021.0 L918.3,1023.0 L918.7,1025.0 L919.0,1027.0 L919.4,1029.0 L919.7,1031.0 L920.1,1033.0 L920.5,1035.0 L920.9,1037.0 L921.3,1039.0 L921.7,1041.0 L922.1,1043.0 L922.5,1045.0 L922.9,1047.0 L923.3,1049.0 L923.8,1051.0 L924.3,1053.0 L924.7,1055.0 L925.2,1057.0 L925.7,1059.0 L926.2,1061.0 L926.7,1063.0 L927.3,1065.0 L927.8,1067.0 L928.4,1069.0 L929.7,1072.8 L930.4,1074.4 L931.2,1075.9 L931.9,1077.2 L932.7,1078.3 L933.4,1079.3 L934.1,1080.0 L935.6,1081.1 L937.1,1081.4 L938.6,1081.1 L940.1,1080.0 L940.8,1079.3 L941.5,1078.3 L942.3,1077.2 L943.0,1075.9 L943.8,1074.4 L944.5,1072.8 L945.8,1069.0 L946.4,1067.0 L946.9,1065.0 L947.5,1063.0 L948.0,1061.0 L948.5,1059.0 L949.0,1057.0 L949.5,1055.0 L949.9,1053.0 L950.4,1051.0 L950.9,1049.0 L951.3,1047.0 L951.7,1045.0 L952.1,1043.0 L952.5,1041.0 L952.9,1039.0 L953.3,1037.0 L953.7,1035.0 L954.1,1033.0 L954.5,1031.0 L954.8,1029.0 L955.2,1027.0 L955.5,1025.0 L955.9,1023.0 L956.2,1021.0 L956.5,1019.0 L956.9,1017.0 L957.2,1015.0 L957.5,1013.0 L957.8,1011.0 L958.1,1009.0 L958.5,1007.0 L958.8,1005.0 L959.1,1003.0 L959.4,1001.0 L959.7,999.0 L960.0,997.0 L960.3,995.0 L960.6,993.0 L961.0,991.0 L961.3,989.0 L961.6,987.0 L961.9,985.0 L962.3,983.0 L962.6,981.0 L962.9,979.0 L963.3,977.0 L963.6,975.0 L964.0,973.0 L964.3,971.0 L964.7,969.0 L965.1,967.0 L965.5,965.0 L965.8,963.0 L966.2,961.0 L966.6,959.0 L967.1,957.0 L967.5,955.0 L967.9,953.0 L968.4,951.0 L968.8,949.0 L969.3,947.0 L969.8,945.0 L970.3,943.0 L971.6,937.5 L974.5,933.3 L977.6,937.5 L979.0,943.0 L979.2,945.0 L979.4,947.0 L979.6,949.0 L979.8,951.0 L980.0,953.0 L980.3,955.0 L980.5,957.0 L980.7,959.0 L980.9,961.0 L981.1,963.0 L981.3,965.0 L981.5,967.0 L981.7,969.0 L981.9,971.0 L982.1,973.0 L982.2,975.0 L982.4,977.0 L982.6,979.0 L982.8,981.0 L983.0,983.0 L983.2,985.0 L983.4,987.0 L983.5,989.0 L983.7,991.0 L983.9,993.0 L984.1,995.0 L984.2,997.0 L984.4,999.0 L984.6,1001.0 L984.7,1003.0 L984.9,1005.0 L985.1,1007.0 L985.2,1009.0 L985.4,1011.0 L985.6,1013.0 L985.7,1015.0 L985.9,1017.0 L986.0,1019.0 L986.2,1021.0 L986.3,1023.0 L986.5,1025.0 L986.7,1027.0 L986.8,1029.0 L987.0,1031.0 L987.1,1033.0 L987.2,1035.0 L987.4,1037.0 L987.5,1039.0 L987.7,1041.0 L987.8,1043.0 L988.0,1045.0 L988.1,1047.0 L988.2,1049.0 L988.4,1051.0 L988.5,1053.0 L988.6,1055.0 L988.8,1057.0 L988.9,1059.0 L989.0,1061.0 L989.2,1063.0 L989.3,1065.0 L989.4,1067.0 L989.6,1069.0 L989.7,1071.0 L989.8,1073.0 L989.9,1075.0 L990.1,1077.0 L990.2,1079.0 L990.3,1081.0 L990.4,1083.0 L990.5,1085.0 L990.7,1087.0 L990.8,1089.0 L990.9,1091.0 L991.0,1093.0 L991.1,1095.0 L991.2,1097.0 L991.4,1099.0 L991.5,1101.0 L991.6,1103.0 L991.7,1105.0 L991.8,1107.0 L991.9,1109.0 L992.0,1111.0 L992.1,1113.0 L992.3,1115.0 L992.4,1117.0 L992.5,1119.0 L992.6,1121.0 L992.7,1123.0 L992.8,1125.0 L992.9,1127.0 L993.0,1129.0 L993.1,1131.0 L993.2,1133.0 L993.3,1135.0 L993.4,1137.0 L993.5,1139.0 L993.6,1141.0 L993.7,1143.0 L993.8,1145.0 L993.9,1147.0 L994.0,1149.0 L994.1,1151.0 L994.2,1153.0 L994.3,1155.0 L994.4,1157.0 L994.5,1159.0 L994.6,1161.0 L994.7,1163.0 L994.8,1165.0 L994.9,1167.0 L995.0,1169.0 L995.1,1171.0 L995.2,1173.0 L995.3,1175.0 L995.4,1177.0 L995.5,1179.0 L995.6,1181.0 L995.7,1183.0 L995.8,1185.0 L995.9,1187.0 L996.0,1189.0 L996.1,1191.0 L996.2,1193.0 L996.3,1195.0 L996.4,1197.0 L996.5,1199.0 L996.6,1201.0 L996.7,1203.0 L996.8,1205.0 L996.9,1207.0 L997.0,1209.0 L997.1,1211.0 L997.2,1213.0 L997.3,1215.0 L997.4,1217.0 L997.5,1219.0 L997.6,1221.0 L997.7,1223.0 L997.8,1225.0 L997.9,1227.0 L998.1,1229.0 L998.2,1231.0 L998.3,1233.0 L998.4,1235.0 L998.5,1237.0 L998.6,1239.0 L998.7,1241.0 L998.8,1243.0 L998.9,1245.0 L999.0,1247.0 L999.1,1249.0 L999.2,1251.0 L999.3,1253.0 L999.4,1255.0 L999.5,1257.0 L999.6,1259.0 L999.8,1261.0 L999.9,1263.0 L1000.0,1265.0 L1000.1,1267.0 L1000.2,1269.0 L1000.3,1271.0 L1000.4,1273.0 L1000.6,1275.0 L1000.7,1277.0 L1000.8,1279.0 L1000.9,1281.0 L1001.0,1283.0 L1001.1,1285.0 L1001.3,1287.0 L1001.4,1289.0 L1001.5,1291.0 L1001.6,1293.0 L1001.7,1295.0 L1001.9,1297.0 L1002.0,1299.0 L1002.1,1301.0 L1002.3,1303.0 L1002.4,1305.0 L1002.5,1307.0 L1002.6,1309.0 L1002.8,1311.0 L1002.9,1313.0 L1003.0,1315.0 L1003.2,1317.0 L1003.3,1319.0 L1003.4,1321.0 L1003.6,1323.0 L1003.7,1325.0 L1003.9,1327.0 L1004.0,1329.0 L1004.1,1331.0 L1004.3,1333.0 L1004.4,1335.0 L1004.6,1337.0 L1004.7,1339.0 L1004.9,1341.0 L1005.0,1343.0 L1005.2,1345.0 L1005.3,1347.0 L1005.5,1349.0 L1005.6,1351.0 L1005.8,1353.0 L1006.0,1355.0 L1006.1,1357.0 L1006.3,1359.0 L1006.4,1361.0 L1006.6,1363.0 L1006.8,1365.0 L1006.9,1367.0 L1007.1,1369.0 L1007.3,1371.0 L1007.4,1373.0 L1007.6,1375.0 L1007.8,1377.0 L1008.0,1379.0 L1008.1,1381.0 L1008.3,1383.0 L1008.5,1385.0 L1008.7,1387.0 L1008.9,1389.0 L1009.0,1391.0 L1009.2,1393.0 L1009.4,1395.0 L1009.6,1397.0 L1009.8,1399.0 L1010.0,1401.0 L1010.2,1403.0 L1010.4,1405.0 L1010.6,1407.0 L1010.8,1409.0 L1011.0,1411.0 L1011.2,1413.0 L1011.4,1415.0 L1011.6,1417.0 L1011.8,1419.0 L1012.0,1421.0 L1012.3,1423.0 L1012.5,1425.0 L1012.7,1427.0 L1012.9,1429.0 L1013.1,1431.0 L1013.4,1433.0 L1013.6,1435.0 L1013.8,1437.0 L1014.1,1439.0 L1014.3,1441.0 L1017.6,1453.0 L1020.9,1460.4 L1024.0,1453.0 L1025.9,1443.2 L1026.0,1441.9 L1026.2,1440.7 L1026.4,1439.4 L1026.5,1438.2 L1026.7,1436.9 L1026.9,1435.7 L1027.0,1434.4 L1027.2,1433.1 L1027.3,1431.9 L1027.5,1430.6 L1027.6,1429.4 L1027.8,1428.1 L1027.9,1426.8 L1028.1,1425.6 L1028.2,1424.3 L1028.4,1423.0 L1028.5,1421.8 L1028.7,1420.5 L1028.8,1419.2 L1028.9,1417.9 L1029.1,1416.7 L1029.2,1415.4 L1029.4,1414.1 L1029.5,1412.8 L1029.6,1411.5 L1029.8,1410.3 L1029.9,1409.0 L1030.0,1407.7 L1030.2,1406.4 L1030.3,1405.1 L1030.4,1403.8 L1030.5,1402.6 L1030.7,1401.3 L1030.8,1400.0 L1030.9,1398.7 L1031.0,1397.4 L1031.1,1396.1 L1031.3,1394.8 L1031.4,1393.5 L1031.5,1392.2 L1031.6,1390.9 L1031.7,1389.6 L1031.8,1388.3 L1032.0,1387.0 L1032.1,1385.7 L1032.2,1384.4 L1032.3,1383.1 L1032.4,1381.8 L1032.5,1380.5 L1032.6,1379.2 L1032.7,1377.9 L1032.8,1376.6 L1032.9,1375.2 L1033.0,1373.9 L1033.1,1372.6 L1033.2,1371.3 L1033.3,1370.0 L1033.4,1368.7 L1033.5,1367.4 L1033.6,1366.0 L1033.7,1364.7 L1033.8,1363.4 L1033.9,1362.1 L1034.0,1360.8 L1034.1,1359.4 L1034.2,1358.1 L1034.3,1356.8 L1034.4,1355.5 L1034.5,1354.2 L1034.6,1352.8 L1034.6,1351.5 L1034.7,1350.2 L1034.8,1348.9 L1034.9,1347.5 L1035.0,1346.2 L1035.1,1344.9 L1035.2,1343.5 L1035.3,1342.2 L1035.3,1340.9 L1035.4,1339.6 L1035.5,1338.2 L1035.6,1336.9 L1035.7,1335.6 L1035.7,1334.2 L1035.8,1332.9 L1035.9,1331.6 L1036.0,1330.2 L1036.1,1328.9 L1036.1,1327.6 L1036.2,1326.2 L1036.3,1324.9 L1036.4,1323.6 L1036.5,1322.2 L1036.5,1320.9 L1036.6,1319.5 L1036.7,1318.2 L1036.8,1316.9 L1036.8,1315.5 L1036.9,1314.2 L1037.0,1312.8 L1037.1,1311.5 L1037.1,1310.2 L1037.2,1308.8 L1037.3,1307.5 L1037.4,1306.1 L1037.4,1304.8 L1037.5,1303.5 L1037.6,1302.1 L1037.7,1300.8 L1037.7,1299.4 L1037.8,1298.1 L1037.9,1296.8 L1037.9,1295.4 L1038.0,1294.1 L1038.1,1292.7 L1038.2,1291.4 L1038.2,1290.0 L1038.3,1288.7 L1038.4,1287.3 L1038.4,1286.0 L1038.5,1284.7 L1038.6,1283.3 L1038.6,1282.0 L1038.7,1280.6 L1038.8,1279.3 L1038.9,1277.9 L1038.9,1276.6 L1039.0,1275.2 L1039.1,1273.9 L1039.1,1272.6 L1039.2,1271.2 L1039.3,1269.9 L1039.3,1268.5 L1039.4,1267.2 L1039.5,1265.8 L1039.5,1264.5 L1039.6,1263.1 L1039.7,1261.8 L1039.8,1260.5 L1039.8,1259.1 L1039.9,1257.8 L1040.0,1256.4 L1040.0,1255.1 L1040.1,1253.7 L1040.2,1252.4 L1040.2,1251.0 L1040.3,1249.7 L1040.4,1248.3 L1040.4,1247.0 L1040.5,1245.6 L1040.6,1244.3 L1040.6,1242.9 L1040.7,1241.6 L1040.8,1240.2 L1040.8,1238.9 L1040.9,1237.6 L1041.0,1236.2 L1041.0,1234.9 L1041.1,1233.5 L1041.2,1232.2 L1041.2,1230.8 L1041.3,1229.5 L1041.4,1228.1 L1041.4,1226.8 L1041.5,1225.4 L1041.6,1224.1 L1041.6,1222.7 L1041.7,1221.4 L1041.7,1220.0 L1041.8,1218.7 L1041.9,1217.3 L1041.9,1216.0 L1042.0,1214.6 L1042.1,1213.3 L1042.1,1211.9 L1042.2,1210.6 L1042.3,1209.2 L1042.3,1207.9 L1042.4,1206.5 L1042.5,1205.2 L1042.5,1203.8 L1042.6,1202.5 L1042.6,1201.1 L1042.7,1199.8 L1042.8,1198.4 L1042.8,1197.1 L1042.9,1195.7 L1043.0,1194.4 L1043.0,1193.0 L1043.1,1191.7 L1043.1,1190.3 L1043.2,1189.0 L1043.3,1187.6 L1043.3,1186.3 L1043.4,1184.9 L1043.5,1183.5 L1043.5,1182.2 L1043.6,1180.8 L1043.6,1179.5 L1043.7,1178.1 L1043.8,1176.8 L1043.8,1175.4 L1043.9,1174.1 L1044.0,1172.7 L1044.0,1171.4 L1044.1,1170.0 L1044.1,1168.7 L1044.2,1167.3 L1044.3,1166.0 L1044.3,1164.6 L1044.4,1163.3 L1044.4,1161.9 L1044.5,1160.5 L1044.6,1159.2 L1044.6,1157.8 L1044.7,1156.5 L1044.7,1155.1 L1044.8,1153.8 L1044.9,1152.4 L1044.9,1151.1 L1045.0,1149.7 L1045.0,1148.4 L1045.1,1147.0 L1045.2,1145.6 L1045.2,1144.3 L1045.3,1142.9 L1045.3,1141.6 L1045.4,1140.2 L1045.5,1138.9 L1045.5,1137.5 L1045.6,1136.2 L1045.6,1134.8 L1045.7,1133.4 L1045.7,1132.1 L1045.8,1130.7 L1045.9,1129.4 L1045.9,1128.0 L1046.0,1126.7 L1046.0,1125.3 L1046.1,1124.0 L1046.1,1122.6 L1046.2,1121.2 L1046.3,1119.9 L1046.3,1118.5 L1046.4,1117.2 L1046.4,1115.8 L1046.5,1114.5 L1046.5,1113.1 L1046.6,1111.7 L1046.7,1110.4 L1046.7,1109.0 L1046.8,1107.7 L1046.8,1106.3 L1046.9,1105.0 L1046.9,1103.6 L1047.0,1102.2 L1047.1,1100.9 L1047.1,1099.5 L1047.2,1098.2 L1047.2,1096.8 L1047.3,1095.4 L1047.3,1094.1 L1047.4,1092.7 L1047.4,1091.4 L1047.5,1090.0 L1047.6,1088.7 L1047.6,1087.3 L1047.7,1085.9 L1047.7,1084.6 L1047.8,1083.2 L1047.8,1081.9 L1047.9,1080.5 L1047.9,1079.1 L1048.0,1077.8 L1048.1,1076.4 L1048.1,1075.1 L1048.2,1073.7 L1048.2,1072.3 L1048.3,1071.0 L1048.3,1069.6 L1048.4,1068.3 L1048.4,1066.9 L1048.5,1065.5 L1048.5,1064.2 L1048.6,1062.8 L1048.6,1061.5 L1048.7,1060.1 L1048.8,1058.7 L1048.8,1057.4 L1048.9,1056.0 L1048.9,1054.7 L1049.0,1053.3 L1049.0,1051.9 L1049.1,1050.6 L1049.1,1049.2 L1049.2,1047.8 L1049.2,1046.5 L1049.3,1045.1 L1049.3,1043.8 L1049.4,1042.4 L1049.4,1041.0 L1049.5,1039.7 L1049.5,1038.3 L1049.6,1037.0 L1049.7,1035.6 L1049.7,1034.2 L1049.8,1032.9 L1049.8,1031.5 L1049.9,1030.1 L1049.9,1028.8 L1050.0,1027.4 L1050.0,1026.1 L1050.1,1024.7 L1050.1,1023.3 L1050.2,1022.0 L1050.2,1020.6 L1050.3,1019.3 L1050.3,1017.9 L1050.4,1016.5 L1050.4,1015.2 L1050.5,1013.8 L1050.5,1012.4 L1050.6,1011.1 L1050.6,1009.7 L1050.7,1008.4 L1050.7,1007.0 L1050.8,1005.6 L1050.9,1004.3 L1050.9,1002.9 L1051.0,1001.5 L1051.0,1000.2 L1051.1,998.8 L1051.1,997.5 L1051.2,996.1 L1051.2,994.7 L1051.3,993.4 L1051.3,992.0 L1051.4,990.6 L1051.4,989.3 L1051.5,987.9 L1051.5,986.6 L1051.6,985.2 L1051.6,983.8 L1051.7,982.5 L1051.7,981.1 L1051.8,979.7 L1051.8,978.4 L1051.9,977.0 L1051.9,975.6 L1052.0,974.3 L1052.0,972.9 L1052.1,971.6 L1052.1,970.2 L1052.2,968.8 L1052.2,967.5 L1052.3,966.1 L1052.3,964.7 L1052.4,963.4 L1052.4,962.0 L1052.5,960.7 L1052.6,959.3 L1052.6,957.9 L1052.7,956.6 L1052.7,955.2 L1052.8,953.8 L1052.8,952.5 L1052.9,951.1 L1052.9,949.8 L1053.0,948.4 L1053.0,947.0 L1053.1,945.7 L1053.1,944.3 L1053.2,942.9 L1053.2,941.6 L1053.3,940.2 L1053.3,938.9 L1053.4,937.5 L1053.4,936.1 L1053.5,934.8 L1053.5,933.4 L1053.6,932.0 L1053.6,930.7 L1053.7,929.3 L1053.7,928.0 L1053.8,926.6 L1053.8,925.2 L1053.9,923.9 L1054.0,922.5 L1054.0,921.2 L1054.1,919.8 L1054.1,918.4 L1054.2,917.1 L1054.2,915.7 L1054.3,914.3 L1054.3,913.0 L1054.4,911.6 L1054.4,910.3 L1054.5,908.9 L1054.5,907.5 L1054.6,906.2 L1054.6,904.8 L1054.7,903.4 L1054.7,902.1 L1054.8,900.7 L1054.8,899.4 L1054.9,898.0 L1055.0,896.6 L1055.0,895.3 L1055.1,893.9 L1055.1,892.6 L1055.2,891.2 L1055.2,889.8 L1055.3,888.5 L1055.3,887.1 L1055.4,885.8 L1055.4,884.4 L1055.5,883.0 L1055.5,881.7 L1055.6,880.3 L1055.7,879.0 L1055.7,877.6 L1055.8,876.2 L1055.8,874.9 L1055.9,873.5 L1055.9,872.2 L1056.0,870.8 L1056.0,869.4 L1056.1,868.1 L1056.1,866.7 L1056.2,865.4 L1056.3,864.0 L1056.3,862.6 L1056.4,861.3 L1056.4,859.9 L1056.5,858.6 L1056.5,857.2 L1056.6,855.8 L1056.6,854.5 L1056.7,853.1 L1056.8,851.8 L1056.8,850.4 L1056.9,849.1 L1056.9,847.7 L1057.0,846.3 L1057.0,845.0 L1057.1,843.6 L1057.1,842.3 L1057.2,840.9 L1057.3,839.6 L1057.3,838.2 L1057.4,836.8 L1057.4,835.5 L1057.5,834.1 L1057.5,832.8 L1057.6,831.4 L1057.7,830.1 L1057.7,828.7 L1057.8,827.3 L1057.8,826.0 L1057.9,824.6 L1058.0,823.3 L1058.0,821.9 L1058.1,820.6 L1058.1,819.2 L1058.2,817.9 L1058.2,816.5 L1058.3,815.1 L1058.4,813.8 L1058.4,812.4 L1058.5,811.1 L1058.5,809.7 L1058.6,808.4 L1058.7,807.0 L1058.7,805.7 L1058.8,804.3 L1058.8,803.0 L1058.9,801.6 L1059.0,800.2 L1059.0,798.9 L1059.1,797.5 L1059.2,796.2 L1059.2,794.8 L1059.3,793.5 L1059.3,792.1 L1059.4,790.8 L1059.5,789.4 L1059.5,788.1 L1059.6,786.7 L1059.7,785.4 L1059.7,784.0 L1059.8,782.7 L1059.8,781.3 L1059.9,780.0 L1060.0,778.6 L1060.0,777.3 L1060.1,775.9 L1060.2,774.6 L1060.2,773.2 L1060.3,771.9 L1060.4,770.5 L1060.4,769.2 L1060.5,767.8 L1060.6,766.5 L1060.6,765.1 L1060.7,763.8 L1060.8,762.4 L1060.8,761.1 L1060.9,759.7 L1061.0,758.4 L1061.0,757.0 L1061.1,755.7 L1061.2,754.4 L1061.2,753.0 L1061.3,751.7 L1061.4,750.3 L1061.4,749.0 L1061.5,747.6 L1061.6,746.3 L1061.6,744.9 L1061.7,743.6 L1061.8,742.2 L1061.8,740.9 L1061.9,739.6 L1062.0,738.2 L1062.1,736.9 L1062.1,735.5 L1062.2,734.2 L1062.3,732.8 L1062.3,731.5 L1062.4,730.2 L1062.5,728.8 L1062.6,727.5 L1062.6,726.1 L1062.7,724.8 L1062.8,723.5 L1062.9,722.1 L1062.9,720.8 L1063.0,719.4 L1063.1,718.1 L1063.2,716.8 L1063.2,715.4 L1063.3,714.1 L1063.4,712.7 L1063.5,711.4 L1063.5,710.1 L1063.6,708.7 L1063.7,707.4 L1063.8,706.1 L1063.8,704.7 L1063.9,703.4 L1064.0,702.0 L1064.1,700.7 L1064.2,699.4 L1064.2,698.0 L1064.3,696.7 L1064.4,695.4 L1064.5,694.0 L1064.6,692.7 L1064.6,691.4 L1064.7,690.0 L1064.8,688.7 L1064.9,687.4 L1065.0,686.0 L1065.0,684.7 L1065.1,683.4 L1065.2,682.0 L1065.3,680.7 L1065.4,679.4 L1065.5,678.0 L1065.5,676.7 L1065.6,675.4 L1065.7,674.1 L1065.8,672.7 L1065.9,671.4 L1066.0,670.1 L1066.1,668.7 L1066.1,667.4 L1066.2,666.1 L1066.3,664.8 L1066.4,663.4 L1066.5,662.1 L1066.6,660.8 L1066.7,659.5 L1066.8,658.1 L1066.8,656.8 L1066.9,655.5 L1067.0,654.2 L1067.1,652.8 L1067.2,651.5 L1067.3,650.2 L1067.4,648.9 L1067.5,647.5 L1067.6,646.2 L1067.7,644.9 L1067.8,643.6 L1067.9,642.3 L1067.9,640.9 L1068.0,639.6 L1068.1,638.3 L1068.2,637.0 L1068.3,635.7 L1068.4,634.3 L1068.5,633.0 L1068.6,631.7 L1068.7,630.4 L1068.8,629.1 L1068.9,627.8 L1069.0,626.4 L1069.1,625.1 L1069.2,623.8 L1069.3,622.5 L1069.4,621.2 L1069.5,619.9 L1069.6,618.6 L1069.7,617.2 L1069.8,615.9 L1069.9,614.6 L1070.0,613.3 L1070.1,612.0 L1070.2,610.7 L1070.3,609.4 L1070.4,608.1 L1070.5,606.7 L1070.6,605.4 L1070.7,604.1 L1070.8,602.8 L1070.9,601.5 L1071.1,600.2 L1071.2,598.9 L1071.3,597.6 L1071.4,596.3 L1071.5,595.0 L1071.6,593.7 L1071.7,592.4 L1071.8,591.1 L1071.9,589.8 L1072.0,588.5 L1072.1,587.1 L1072.2,585.8 L1072.4,584.5 L1072.5,583.2 L1072.6,581.9 L1072.7,580.6 L1072.8,579.3 L1072.9,578.0 L1073.0,576.7 L1073.2,575.4 L1073.3,574.1 L1073.4,572.8 L1073.5,571.5 L1073.6,570.2 L1073.7,568.9 L1073.9,567.6 L1074.0,566.4 L1074.1,565.1 L1074.2,563.8 L1074.3,562.5 L1074.5,561.2 L1074.6,559.9 L1074.7,558.6 L1074.8,557.3 L1074.9,556.0 L1075.1,554.7 L1075.2,553.4 L1075.3,552.1 L1075.4,550.8 L1075.6,549.5 L1075.7,548.3 L1075.8,547.0 L1075.9,545.7 L1076.1,544.4 L1076.2,543.1 L1076.3,541.8 L1076.4,540.5 L1076.6,539.2 L1076.7,538.0 L1076.8,536.7 L1077.0,535.4 L1077.1,534.1 L1077.2,532.8 L1077.4,531.5 L1077.5,530.3 L1077.6,529.0 L1077.7,527.7 L1077.9,526.4 L1078.0,525.1 L1078.2,523.9 L1078.3,522.6 L1078.4,521.3 L1078.6,520.0 L1078.7,518.8 L1078.8,517.5 L1079.0,516.2 L1079.1,514.9 L1079.3,513.7 L1079.4,512.4 L1079.5,511.1 L1079.7,509.8 L1079.8,508.6 L1080.0,507.3 L1080.1,506.0 L1080.3,504.8 L1080.4,503.5 L1080.6,502.2 L1080.7,501.0 L1080.9,499.7 L1081.0,498.4 L1081.2,497.2 L1081.3,495.9 L1081.5,494.7 L1081.6,493.4 L1081.8,492.1 L1081.9,490.9 L1082.1,489.6 L1082.2,488.4 L1082.4,487.1 L1082.6,485.8 L1082.7,484.6 L1082.9,483.3 L1083.0,482.1 L1083.2,480.8 L1083.4,479.6 L1083.5,478.3 L1083.7,477.1 L1083.9,475.8 L1084.0,474.6 L1084.2,473.3 L1084.4,472.1 L1084.5,470.9 L1084.7,469.6 L1084.9,468.4 L1085.1,467.1 L1085.2,465.9 L1085.4,464.7 L1085.6,463.4 L1085.8,462.2 L1085.9,460.9 L1086.1,459.7 L1086.3,458.5 L1086.5,457.2 L1086.7,456.0 L1086.9,454.8 L1087.0,453.6 L1087.2,452.3 L1087.4,451.1 L1087.6,449.9 L1087.8,448.7 L1088.0,447.4 L1088.2,446.2 L1088.4,445.0 L1088.6,443.8 L1088.8,442.6 L1089.0,441.3 L1089.2,440.1 L1089.4,438.9 L1089.6,437.7 L1089.8,436.5 L1090.0,435.3 L1090.2,434.1 L1090.4,432.9 L1090.6,431.7 L1090.8,430.5 L1091.0,429.3 L1091.2,428.1 L1091.5,426.9 L1091.7,425.7 L1091.9,424.5 L1092.1,423.3 L1092.3,422.1 L1092.5,420.9 L1092.8,419.7 L1093.0,418.5 L1093.2,417.3 L1093.4,416.1 L1093.7,414.9 L1093.9,413.7 L1094.1,412.6 L1094.4,411.4 L1094.6,410.2 L1094.8,409.0 L1095.1,407.9 L1095.3,406.7 L1095.6,405.5 L1095.8,404.3 L1096.0,403.2 L1096.3,402.0 L1096.5,400.8 L1096.8,399.7 L1097.0,398.5 L1097.3,397.3 L1097.5,396.2 L1097.8,395.0 L1098.1,393.9 L1098.3,392.7 L1098.6,391.5 L1098.8,390.4 L1099.1,389.2 L1099.4,388.1 L1099.6,386.9 L1099.9,385.8 L1100.2,384.7 L1100.4,383.5 L1100.7,382.4 L1101.0,381.2 L1101.3,380.1 L1101.5,379.0 L1101.8,377.8 L1102.1,376.7 L1102.4,375.6 L1102.7,374.4 L1103.0,373.3 L1103.3,372.2 L1103.6,371.1 L1103.8,370.0 L1104.1,368.8 L1104.4,367.7 L1104.7,366.6 L1105.0,365.5 L1105.3,364.4 L1105.7,363.3 L1106.0,362.2 L1106.3,361.1 L1106.6,360.0 L1106.9,358.9 L1107.2,357.8 L1107.5,356.7 L1107.9,355.6 L1108.2,354.5 L1108.5,353.4 L1108.9,352.3 L1109.2,351.3 L1109.5,350.2 L1109.9,349.1 L1110.2,348.0 L1110.6,347.0 L1110.9,345.9 L1111.3,344.8 L1111.6,343.8 L1112.0,342.7 L1112.3,341.7 L1112.7,340.6 L1113.1,339.6 L1113.4,338.5 L1113.8,337.5 L1114.2,336.4 L1114.6,335.4 L1114.9,334.4 L1115.3,333.4 L1115.7,332.3 L1116.1,331.3 L1116.5,330.3 L1116.9,329.3 L1117.3,328.3 L1117.7,327.3 L1118.2,326.3 L1118.6,325.3 L1119.0,324.3 L1119.4,323.3 L1119.9,322.3 L1120.3,321.3 L1120.7,320.4 L1121.2,319.4 L1121.6,318.4 L1122.1,317.5 L1122.5,316.5 L1123.0,315.5 L1123.4,314.6 L1123.9,313.6 L1124.4,312.7 L1124.9,311.8 L1125.3,310.8 L1125.8,309.9 L1126.3,309.0 L1126.8,308.1 L1127.3,307.2 L1127.8,306.2 L1128.3,305.3 L1128.8,304.4 L1129.4,303.5 L1129.9,302.7 L1130.4,301.8 L1131.0,300.9 L1131.5,300.0 L1132.0,299.1 L1132.6,298.3 L1133.1,297.4 L1133.7,296.6 L1134.3,295.7 L1134.8,294.9 L1135.4,294.0 L1136.0,293.2 L1136.6,292.4 L1137.1,291.5 L1137.7,290.7 L1138.3,289.9 L1138.9,289.1 L1139.5,288.3 L1140.1,287.5 L1140.8,286.7 L1141.4,285.9 L1142.0,285.1 L1142.6,284.3 L1143.2,283.5 L1143.9,282.7 L1144.5,281.9 L1145.2,281.2 L1145.8,280.4 L1146.5,279.6 L1147.1,278.9 L1147.8,278.1 L1148.4,277.4 L1149.1,276.6 L1149.8,275.9 L1150.4,275.1 L1151.1,274.4 L1151.8,273.7 L1152.5,272.9 L1153.2,272.2 L1153.9,271.5 L1154.6,270.8 L1155.3,270.1 L1156.0,269.3 L1156.7,268.6 L1157.4,267.9 L1158.1,267.2 L1158.8,266.5 L1159.5,265.8 L1160.3,265.2 L1161.0,264.5 L1161.7,263.8 L1162.5,263.1 L1163.2,262.4 L1163.9,261.8 L1164.7,261.1 L1165.4,260.4 L1166.2,259.8 L1167.0,259.1 L1167.7,258.5 L1168.5,257.8 L1169.2,257.2 L1170.0,256.5 L1170.8,255.9 L1171.6,255.2 L1172.3,254.6 L1173.1,254.0 L1173.9,253.3 L1174.7,252.7 L1175.5,252.1 L1176.3,251.5 L1177.1,250.8 L1177.9,250.2 L1178.7,249.6 L1179.5,249.0 L1180.3,248.4 L1181.1,247.8 L1181.9,247.2 L1182.8,246.6 L1183.6,246.0 L1184.4,245.5 L1185.2,244.9 L1186.1,244.3 L1186.9,243.7 L1187.8,243.2 L1188.6,242.6 L1189.5,242.0 L1190.3,241.5 L1191.2,240.9 L1192.0,240.4 L1192.9,239.8 L1193.8,239.3 L1194.6,238.7 L1195.5,238.2 L1196.4,237.7 L1197.3,237.1 L1198.2,236.6 L1199.1,236.1 L1200.0,235.6 L1200.9,235.0 L1201.8,234.5 L1202.7,234.0 L1203.6,233.5 L1204.5,233.0 L1205.4,232.5 L1206.3,232.0 L1207.3,231.5 L1208.2,231.1 L1209.1,230.6 L1210.1,230.1 L1211.0,229.6 L1212.0,229.2 L1212.9,228.7 L1213.9,228.2 L1214.8,227.8 L1215.8,227.3 L1216.8,226.9 L1217.7,226.4 L1218.7,226.0 L1219.7,225.6 L1220.7,225.1 L1221.6,224.7 L1222.6,224.3 L1223.6,223.9 L1224.6,223.4 L1225.6,223.0 L1226.6,222.6 L1227.6,222.2 L1228.7,221.8 L1229.7,221.4 L1230.7,221.0 L1231.7,220.7 L1232.8,220.3 L1233.8,219.9 L1234.8,219.5 L1235.9,219.2 L1236.9,218.8 L1238.0,218.4 L1239.1,218.1 L1240.1,217.7 L1241.2,217.4 L1242.3,217.0 L1243.3,216.7 L1244.4,216.4 L1245.5,216.0 L1246.6,215.7 L1247.7,215.4 L1248.8,215.1 L1249.9,214.8 L1251.0,214.4 L1252.1,214.1 L1253.2,213.8 L1254.3,213.6 L1255.5,213.3 L1256.6,213.0 L1257.7,212.7 L1258.9,212.4 L1260.0,212.1 L1261.1,211.9 L1262.3,211.6 L1263.4,211.4 L1264.6,211.1 L1265.8,210.8 L1266.9,210.6 L1268.1,210.4 L1269.3,210.1 L1270.5,209.9 L1271.6,209.7 L1272.8,209.4 L1274.0,209.2 L1275.2,209.0 L1276.4,208.8 L1277.6,208.5 L1278.8,208.3 L1280.0,208.1 L1281.2,207.9 L1282.5,207.7 L1283.7,207.5 L1284.9,207.3 L1286.1,207.2 L1287.4,207.1 L1288.6,206.9 L1289.8,206.8 L1291.1,206.7 L1292.3,206.5 L1293.6,206.4 L1294.8,206.2 L1296.1,206.0 L1297.4,205.8 L1298.6,205.5 L1299.9,205.3 L1301.2,205.0 L1302.4,204.8 L1303.7,204.6 L1305.0,204.5 L1306.3,204.3 L1307.6,204.3 L1308.9,204.2 L1310.2,204.2 L1311.5,204.3 L1312.8,204.3 L1314.1,204.3 L1315.4,204.3 L1316.7,204.3 L1318.0,204.2 L1319.3,204.1 L1320.7,203.9 L1322.0,203.7 L1323.3,203.4 L1324.6,203.1 L1326.0,202.8 L1327.3,202.6 L1328.6,202.4 L1330.0,202.2 L1331.3,202.2 L1332.7,202.2 L1334.0,202.3 L1335.4,202.5 L1336.7,202.7 L1338.1,202.8 L1339.5,203.0 L1340.8,203.1 L1342.2,203.1 L1343.6,203.1 L1344.9,202.9 L1346.3,202.8 L1347.7,202.5 L1349.1,202.3 L1350.5,202.0 L1351.8,201.8 L1353.2,201.6 L1354.6,201.4 L1356.0,201.4 L1357.4,201.5 L1358.8,201.6 L1360.2,201.8 L1361.6,202.0 L1363.0,202.2 L1364.4,202.4 L1365.8,202.6 L1367.3,202.7 L1368.7,202.7 L1370.1,202.7 L1371.5,202.5 L1372.9,202.3 L1374.3,202.1 L1377.5,201.4 L1380.5,201.2 L1383.5,201.3 L1386.5,201.8 L1389.5,202.3 L1392.5,202.6 L1395.5,202.5 L1398.5,202.2 L1401.5,201.7 L1404.5,201.3 L1407.5,201.2 L1410.5,201.5 L1413.5,202.0 L1416.5,202.5 L1419.5,202.6 L1422.5,202.4 L1425.5,201.9 L1428.5,201.4 L1431.5,201.2 L1434.5,201.4 L1437.5,201.8 L1440.5,202.3 L1443.5,202.6 L1446.5,202.5 L1449.5,202.1 L1452.5,201.6 L1455.5,201.3 L1458.5,201.2 L1461.5,201.6 L1464.5,202.1 L1467.5,202.5 L1470.5,202.6 L1473.5,202.3 L1476.5,201.9 L1479.5,201.4 L1482.5,201.2 L1485.5,201.4 L1488.5,201.8 L1491.5,202.3 L1494.5,202.6 L1497.5,202.5 L1500.5,202.1 L1503.5,201.6 L1506.5,201.2 L1509.5,201.2 L1512.5,201.6 L1515.5,202.1 L1518.5,202.5 L1521.5,202.6 L1524.5,202.3 L1527.5,201.8 L1530.5,201.4 L1533.5,201.2 L1536.5,201.4 L1539.5,201.9 L1542.5,202.3 L1545.5,202.6 L1548.5,202.5 L1551.5,202.1 L1554.5,201.6 L1557.5,201.2 L1560.5,201.3 L1563.5,201.6 L1566.5,202.1 L1569.5,202.5 L1572.5,202.6 L1575.5,202.3 L1578.5,201.8 L1581.5,201.3 L1584.5,201.2 L1587.5,201.4 L1590.5,201.9 L1593.5,202.4 L1596.5,202.6 L1599.5,202.5 L1602.5,202.0 L1605.5,201.5 L1608.5,201.2 L1611.5,201.3 L1614.5,201.7 L1617.5,202.2 L1620.5,202.5 L1623.5,202.6 L1626.5,202.3 L1629.5,201.8 L1632.5,201.3 L1635.5,201.2 L1638.5,201.4 L1641.5,201.9 L1644.5,202.4 L1647.5,202.6 L1650.5,202.4 L1653.5,202.0 L1656.5,201.5 L1659.5,201.2 L1662.5,201.3 L1665.5,201.7 L1668.5,202.2 L1671.5,202.5 L1674.5,202.6 L1677.5,202.2 L1680.5,201.7 L1683.5,201.3 L1686.5,201.2 L1689.5,201.5 L1692.5,202.0 L1695.5,202.4 L1698.5,202.6 L1701.5,202.4 L1704.5,202.0 L1707.5,201.5 L1710.5,201.2 L1713.5,201.3 L1716.5,201.7" fill="none" stroke="#1f77b4" stroke-width="6.250" stroke-linejoin="round" stroke-linecap="square"/>
</g>
<g fill="#000">
<rect x="320" y="137" width="3" height="1389"/>
<rect x="1715" y="137" width="3" height="1389"/>
<rect x="320" y="137" width="1398" height="3"/>
<rect x="320" y="1523" width="1398" height="3"/>
<rect x="320" y="1524" width="3" height="15.5"/>
<rect x="669" y="1524" width="3" height="15.5"/>
<rect x="1017" y="1524" width="3" height="15.5"/>
<rect x="1366" y="1524" width="3" height="15.5"/>
<rect x="1715" y="1524" width="3" height="15.5"/>
<rect x="306.5" y="298" width="15" height="3"/>
<rect x="306.5" y="664" width="15" height="3"/>
<rect x="306.5" y="1029" width="15" height="3"/>
<rect x="306.5" y="1394" width="15" height="3"/>
</g>
<g font-family="&quot;Liberation Serif&quot;, serif" font-weight="bold" font-size="100" fill="#000">
<text transform="translate(321.50,1619.6) scale(1,1.025)" text-anchor="middle">0.00</text>
<text transform="translate(670.25,1619.6) scale(1,1.025)" text-anchor="middle">0.25</text>
<text transform="translate(1019.00,1619.6) scale(1,1.025)" text-anchor="middle">0.50</text>
<text transform="translate(1367.75,1619.6) scale(1,1.025)" text-anchor="middle">0.75</text>
<text transform="translate(1716.50,1619.6) scale(1,1.025)" text-anchor="middle">1.00</text>
<text transform="translate(292.6,333.00) scale(1,1.025)" text-anchor="end">0</text>
<text transform="translate(292.6,699.00) scale(1,1.025)" text-anchor="end">10</text>
<text transform="translate(292.6,1064.00) scale(1,1.025)" text-anchor="end">20</text>
<text transform="translate(292.6,1429.00) scale(1,1.025)" text-anchor="end">30</text>
</g>
<g fill="#000">
<rect x="137.1" y="662.65" width="53" height="6.3"/>
<rect x="137.1" y="1027.65" width="53" height="6.3"/>
<rect x="137.1" y="1392.65" width="53" height="6.3"/>
</g>
<text font-family="&quot;Liberation Serif&quot;, serif" font-weight="bold" font-size="100" fill="#000" transform="translate(95.2,1129.9) rotate(-90)">Potential (eV)</text>
<g font-family="&quot;Liberation Serif&quot;, serif" font-weight="bold" font-size="100" fill="#000">
<text x="810" y="1743">z</text>
<text x="879.2" y="1743">(</text>
<text transform="translate(967.6,1743.2) scale(1.02,1.035)">30</text>
<text x="1097.7" y="1743">A</text>
<text x="1192.2" y="1743">)</text>
</g>
<g stroke="#000" stroke-width="6.4" stroke-linecap="butt">
<line x1="923" y1="1691.2" x2="960.5" y2="1728.7"/><line x1="960.5" y1="1691.2" x2="923" y2="1728.7"/>
</g>
<circle cx="1134.6" cy="1668.7" r="8.4" fill="none" stroke="#000" stroke-width="3.6"/>
<g font-family="&quot;Liberation Serif&quot;, serif" font-weight="bold" fill="#000">
<text x="631.2" y="112.5" font-size="120">E</text>
<text x="713" y="144.3" font-size="83.3">vac</text>
<text transform="translate(965,113.6) scale(1,1.03)" font-size="120">2.677 eV</text>
</g>
<rect x="871.3" y="60.1" width="64.1" height="7.7" fill="#000"/>
<rect x="871.3" y="79.1" width="64.1" height="7.6" fill="#000"/>
</svg></body></html>
